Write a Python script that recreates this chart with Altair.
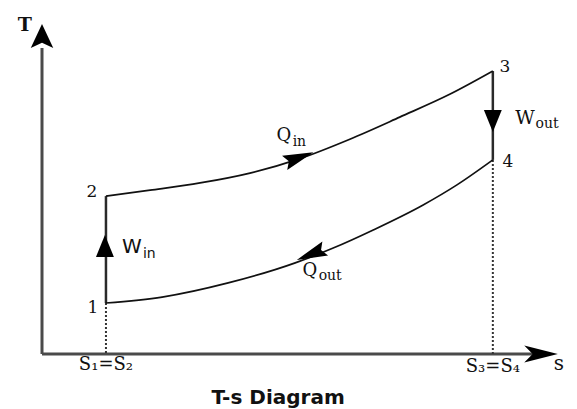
import altair as alt
import pandas as pd

# ---- data (s and T in arbitrary diagram units, 0..100) ----
upper_s = [12.3, 20.8, 30.4, 40.0, 49.6, 59.2, 68.8, 78.5, 86.7]
upper_T = [48.0, 49.8, 52.0, 55.0, 59.4, 65.3, 72.0, 79.0, 86.0]
lower_s = [12.3, 23.1, 35.8, 48.7, 56.0, 63.7, 73.3, 79.8, 86.7]
lower_T = [15.5, 17.3, 21.6, 27.7, 32.2, 37.7, 45.3, 51.4, 59.0]
state_names = ["1", "2", "3", "4"]
state_s = [12.3, 12.3, 86.7, 86.7]
state_T = [15.5, 48.0, 86.0, 59.0]
axis_s_end = 96.0
axis_T_end = 93.0
tick_labels = ["S\u2081=S\u2082", "S\u2083=S\u2084"]

XS = alt.Scale(domain=[0, 100])
YS = alt.Scale(domain=[0, 100])


def X(f="s"):
    return alt.X(f"{f}:Q", scale=XS, axis=None)


def Y(f="T"):
    return alt.Y(f"{f}:Q", scale=YS, axis=None)


layers = []

# axes
ax = pd.DataFrame({"s": [0, 0], "T": [0, 0], "s2": [0, axis_s_end], "T2": [axis_T_end, 0]})
layers.append(alt.Chart(ax).mark_rule(color="#4a4a4a", strokeWidth=3).encode(
    x=X(), y=Y(), x2="s2:Q", y2="T2:Q"))

# dotted projections to the s axis
dots = pd.DataFrame({"s": [state_s[0], state_s[3]], "T": [state_T[0], state_T[3]], "T2": [0, 0]})
layers.append(alt.Chart(dots).mark_rule(color="#333", strokeWidth=2, strokeDash=[2, 2]).encode(
    x=X(), y=Y(), y2="T2:Q"))

# isentropic processes 1-2 and 3-4
iso = pd.DataFrame({"s": [state_s[0], state_s[2]], "T": [state_T[0], state_T[3]],
                    "T2": [state_T[1], state_T[2]]})
layers.append(alt.Chart(iso).mark_rule(color="#2a2a2a", strokeWidth=2.5).encode(
    x=X(), y=Y(), y2="T2:Q"))

# heat addition / rejection curves
up = pd.DataFrame({"s": upper_s, "T": upper_T})
lo = pd.DataFrame({"s": lower_s, "T": lower_T})
layers.append(alt.Chart(up).mark_line(color="#111", strokeWidth=1.7, interpolate="monotone").encode(x=X(), y=Y()))
layers.append(alt.Chart(lo).mark_line(color="#111", strokeWidth=1.7, interpolate="monotone").encode(x=X(), y=Y()))

NOTCH_WIDE = "M0,0 L0.75,1.6 L0,1.25 L-0.75,1.6 Z"
NOTCH_NARROW = "M0,0 L0.4,1.6 L0,1.2 L-0.4,1.6 Z"
FLOW = "M0,0 L0.42,1.7 L0,1.45 L-0.42,1.7 Z"
TRI = "M0,0 L0.65,1.6 L-0.65,1.6 Z"


def arrow(s, T, angle, shape, size, color="#000"):
    d = pd.DataFrame({"s": [s], "T": [T]})
    return alt.Chart(d).mark_point(shape=shape, size=size, angle=angle, filled=True,
                                   color=color, opacity=1, strokeWidth=0).encode(x=X(), y=Y())


layers.append(arrow(0, 100.3, 0, NOTCH_WIDE, 900))
layers.append(arrow(99.2, 0, 90, NOTCH_NARROW, 1764))
layers.append(arrow(52.2, 61.3, 70, FLOW, 1300))
layers.append(arrow(49.0, 28.6, 248, FLOW, 1300))
layers.append(arrow(12.1, 36.2, 0, TRI, 756))
layers.append(arrow(86.7, 67.5, 180, TRI, 756))


def label(text, s, T, size, font="DejaVu Serif", weight="normal", dx=0, dy=0, align="center", color="#111"):
    d = pd.DataFrame({"s": [s], "T": [T], "t": [text]})
    return alt.Chart(d).mark_text(fontSize=size, font=font, fontWeight=weight, align=align,
                                  baseline="middle", dx=dx, dy=dy, color=color).encode(
        x=X(), y=Y(), text="t:N")


# state point numbers
offs = [(-13, 5), (-14, -4), (12, -4), (15, 2)]
for i in range(4):
    layers.append(label(state_names[i], state_s[i], state_T[i], 17, dx=offs[i][0], dy=offs[i][1]))

# axis labels
layers.append(label("T", -3.3, 100.0, 19, weight="bold"))
layers.append(label("s", 99.4, -3.0, 20))
layers.append(label(tick_labels[0], state_s[0], -3.3, 18))
layers.append(label(tick_labels[1], state_s[2], -3.9, 18))

# work / heat labels (subscripts left-aligned right after the letter)
layers.append(label("W", 17.3, 32.5, 20, font="DejaVu Sans"))
layers.append(label("in", 19.4, 30.5, 14, font="DejaVu Sans", align="left"))
layers.append(label("W", 92.9, 71.7, 19))
layers.append(label("out", 94.9, 69.9, 14, align="left"))
layers.append(label("Q", 46.5, 66.3, 18))
layers.append(label("in", 48.2, 64.4, 14, align="left"))
layers.append(label("Q", 51.5, 25.2, 18))
layers.append(label("out", 53.2, 23.7, 14, align="left"))

# caption
layers.append(label("T-s Diagram", 45.4, -13.4, 20, font="DejaVu Sans", weight="bold"))

chart = alt.layer(*layers).properties(
    width=520, height=329,
    autosize=alt.AutoSizeParams(type="none"),
    padding={"left": 34, "top": 17, "right": 7, "bottom": 54},
    background="white",
).configure_view(stroke=None)

chart.save("out.html", embed_options={"renderer": "svg", "actions": False})
